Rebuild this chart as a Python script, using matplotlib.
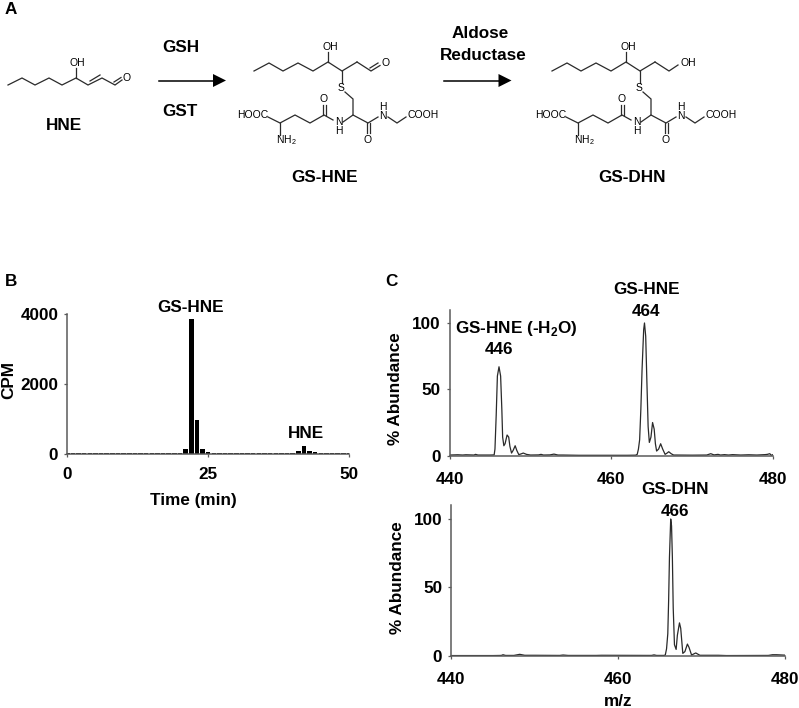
# %%
import matplotlib
matplotlib.use('Agg')
import matplotlib.pyplot as plt

plt.rcParams['font.family'] = ['Liberation Sans', 'DejaVu Sans']
plt.rcParams['mathtext.fontset'] = 'custom'
plt.rcParams['mathtext.rm'] = 'Liberation Sans'
plt.rcParams['mathtext.bf'] = 'Liberation Sans:bold'

W, H = 799, 708
AXIS_COLOR = '#5a5a5a'
BOND_COLOR = '#2a2a2a'
FONT = 12.3

# %% panel B, counts per minute for each fraction
minutes = list(range(0, 51))
cpm = [35, 35, 35, 35, 35, 35, 35, 35, 25, 25, 35, 35, 35, 35, 35, 35, 35, 35, 35, 35, 40,
       150, 3870, 970, 160, 70, 35, 35, 35, 35, 35, 35, 35, 35, 35, 35, 35, 35, 35, 35, 40,
       80, 240, 90, 70, 35, 35, 35, 35, 35, 35]
x_ticks_b = [0, 25, 50]
y_ticks_b = [0, 2000, 4000]

# %% panel C, upper spectrum
mz_top = [440, 441, 441.6, 442, 443, 443.2, 443.5, 444, 445, 445.5, 445.6, 445.75, 445.9, 446.1, 446.3, 446.45,
          446.55, 446.7, 446.85, 447.1, 447.3, 447.45, 447.65, 447.85, 448.1, 448.3, 448.55, 448.9, 449.1,
          449.5, 450, 451, 451.3, 451.6, 452.4, 452.9, 453.4, 454, 456, 458, 460, 462, 463, 463.2, 463.35, 463.5,
          463.65, 463.8, 464, 464.1, 464.25, 464.4, 464.55, 464.7, 464.9, 465.1, 465.3, 465.45, 465.6,
          465.85, 466.1, 466.35, 466.65, 466.9, 467.1, 467.4, 467.7, 468, 470, 471.8, 472.3, 472.7, 473.2,
          473.5, 474, 474.5, 475, 476, 477, 478, 479, 479.3, 479.6, 479.8, 480]
abundance_top = [0.5, 0.7, 0.5, 0.7, 0.5, 1, 0.5, 0.5, 0.5, 0.6, 5, 30, 60, 67, 60, 35,
                 14, 7.5, 9, 15.6, 14, 7, 2, 4, 7.5, 4, 0.8, 1.5, 2,
                 1, 0.5, 0.6, 1, 0.5, 0.6, 1.2, 0.5, 0.5, 0.3, 0.3, 0.3, 0.3, 0.4, 1, 5, 12,
                 35, 65, 95, 100, 90, 55, 22, 10, 14, 25, 20, 9, 3.5,
                 5, 9, 5, 1, 2, 3, 1.5, 0.5, 0.5, 0.4, 0.5, 1.5, 0.6, 1,
                 0.5, 0.8, 0.5, 0.8, 0.5, 0.7, 0.5, 0.8, 1, 1.5, 0.3, 0.8]
x_ticks_top = [440, 460, 480]
y_ticks_top = [0, 50, 100]

# %% panel C, lower spectrum
mz_low = [440, 445, 446, 446.2, 446.5, 447.5, 448.2, 448.8, 450, 453, 453.4, 454, 457.4, 458, 464, 464.3, 464.6,
          465.5, 465.65, 465.8, 465.95, 466.05, 466.15, 466.3, 466.4, 466.5, 466.6, 466.75, 466.95,
          467.1, 467.35, 467.5, 467.75, 468, 468.3, 468.5, 468.8, 469.3, 469.8, 472, 473, 478, 478.5, 479, 480]
abundance_low = [0.1, 0.1, 0.2, 0.7, 0.2, 0.2, 1, 0.3, 0.3, 0.2, 0.5, 0.2, 0.2, 0.3, 0.2, 0.6, 0.2,
                 0.2, 0.5, 5, 16, 40, 72, 100, 95, 72, 35, 8, 4.6,
                 15, 24, 20, 1.7, 3, 8.5, 6, 0.5, 2, 0.3, 0.3, 0.1, 0.2, 0.7, 0.7, 0.4]
x_ticks_low = [440, 460, 480]
y_ticks_low = [0, 50, 100]


# %% chemical structures, in reference pixels
tail_chain = [(254, 71), (269, 63), (283, 71), (298, 63), (313, 71), (328, 62), (342, 71), (357, 62)]
backbone_bonds = [
    [(328, 62), (328, 52)],
    [(342, 71), (342, 83)],
    [(345, 92), (353, 99), (353, 115)],
    [(268, 117), (280, 123), (295, 115), (310, 123), (324, 115), (333, 120)],
    [(343, 122), (353, 115), (368, 123), (378, 117)],
    [(280, 123), (280, 135)],
    [(388, 117), (397, 123), (406, 117)],
]
double_bonds = [((323, 115), (323, 105)), ((326, 115), (326, 105)),
                ((367, 123), (367, 133)), ((370, 123), (370, 133))]
backbone_labels = [
    (330, 47, 'OH'), (341, 88, 'S'), (253, 115, 'HOOC'), (286, 140, r'NH$_2$'),
    (339, 122, 'N'), (339, 131, 'H'), (324, 99, 'O'), (368, 140, 'O'),
    (383, 116, 'N'), (383, 107, 'H'), (423, 115, 'COOH'),
]
hne_chain = [(8, 85), (22, 78), (35, 85), (49, 78), (62, 85), (76, 78), (88, 85), (102, 78), (115, 85), (122, 80)]


def draw_path(ax, points, dx=0):
    ax.plot([p[0] + dx for p in points], [p[1] for p in points], color=BOND_COLOR, lw=0.9,
            solid_joinstyle='miter', zorder=2)


def atom(ax, x, y, label):
    ax.text(x, y, label, fontsize=7.5, ha='center', va='center', color='black', zorder=3)


def draw_backbone(ax, dx):
    draw_path(ax, tail_chain, dx)
    for bond in backbone_bonds:
        draw_path(ax, bond, dx)
    for bond in double_bonds:
        draw_path(ax, bond, dx)
    for x, y, label in backbone_labels:
        atom(ax, x + dx, y, label)


def arrow(ax, x0, x1, y):
    ax.plot([x0, x1 - 8], [y, y], color='black', lw=1.1)
    ax.fill([x1 - 13, x1, x1 - 13], [y - 6.5, y, y + 6.5], color='black', lw=0)


def style_axes(ax, xticks, yticks, xpad):
    ax.spines['top'].set_visible(False)
    ax.spines['right'].set_visible(False)
    ax.spines['left'].set_color(AXIS_COLOR)
    ax.spines['bottom'].set_color(AXIS_COLOR)
    ax.spines['left'].set_linewidth(1.1)
    ax.spines['bottom'].set_linewidth(1.1)
    ax.set_xticks(xticks)
    ax.set_yticks(yticks)
    ax.tick_params(axis='x', length=2.5, width=0.9, color=AXIS_COLOR, pad=xpad, labelsize=FONT)
    ax.tick_params(axis='y', length=2.5, width=0.9, color=AXIS_COLOR, pad=4, labelsize=FONT)
    for lab in ax.get_xticklabels() + ax.get_yticklabels():
        lab.set_fontweight('bold')


def add_axes_px(fig, left, right, top, bottom):
    return fig.add_axes([left / W, 1 - bottom / H, (right - left) / W, (bottom - top) / H])


# %%
fig = plt.figure(figsize=(W / 100, H / 100), dpi=100)

# panel B
ax_b = add_axes_px(fig, 67.3, 349, 314, 454.3)
ax_b.bar(minutes, cpm, width=0.8, color='black')
ax_b.set_xlim(0, 50)
ax_b.set_ylim(0, 4000)
style_axes(ax_b, x_ticks_b, y_ticks_b, 6.5)

# panel C
ax_top = add_axes_px(fig, 449.7, 773, 309.7, 455.7)
ax_top.plot(mz_top, abundance_top, color='#2a2a2a', lw=0.9)
ax_top.set_xlim(440, 480)
ax_top.set_ylim(0, 110)
style_axes(ax_top, x_ticks_top, y_ticks_top, 9.5)

ax_low = add_axes_px(fig, 451.3, 785, 505.3, 655.7)
ax_low.plot(mz_low, abundance_low, color='#2a2a2a', lw=0.9)
ax_low.set_xlim(440, 480)
ax_low.set_ylim(0, 110)
style_axes(ax_low, x_ticks_low, y_ticks_low, 9.5)

# overlay in reference pixels for the scheme and the labels
ov = fig.add_axes([0, 0, 1, 1], facecolor='none')
ov.set_xlim(0, W)
ov.set_ylim(H, 0)
ov.axis('off')

# HNE
draw_path(ov, hne_chain)
draw_path(ov, [(76, 78), (76, 68)])
draw_path(ov, [(90, 81), (100, 75)])
draw_path(ov, [(114, 82), (121, 77.5)])
atom(ov, 77, 63, 'OH')
atom(ov, 127, 78, 'O')

# GS-HNE
draw_backbone(ov, 0)
draw_path(ov, [(357, 62), (371, 71), (380, 65.5)])
draw_path(ov, [(370, 68), (378, 63)])
atom(ov, 386, 63, 'O')

# GS-DHN
draw_backbone(ov, 298)
draw_path(ov, [(655, 62), (669, 71), (678, 65)])
atom(ov, 688, 63, 'OH')

arrow(ov, 159, 226, 80.5)
arrow(ov, 444, 511.5, 80.5)


def label(x, y, s, **kw):
    ov.text(x, y, s, fontsize=FONT, fontweight='bold', ha='center', va='center', color='black', **kw)


label(11, 9, 'A')
label(11, 281, 'B')
label(391, 281, 'C')
label(180.5, 47.5, 'GSH')
label(180, 112, 'GST')
label(63.5, 125, 'HNE')
label(325, 177, 'GS-HNE')
label(480, 34, 'Aldose')
label(483, 55.5, 'Reductase')
label(632, 177, 'GS-DHN')

label(191, 307, 'GS-HNE')
label(306, 434, 'HNE')
label(193, 501, 'Time (min)')
label(9, 380, 'CPM', rotation=90)

label(647, 289, 'GS-HNE')
label(646, 311, '464')
label(516, 329, r'GS-HNE (-H$_\mathbf{2}$O)')
label(499, 349, '446')
label(395, 389, '% Abundance', rotation=90)

label(675, 490, 'GS-DHN')
label(675, 512, '466')
label(398, 578, '% Abundance', rotation=90)
label(618, 702, 'm/z')

fig.savefig('out.png', dpi=100)
